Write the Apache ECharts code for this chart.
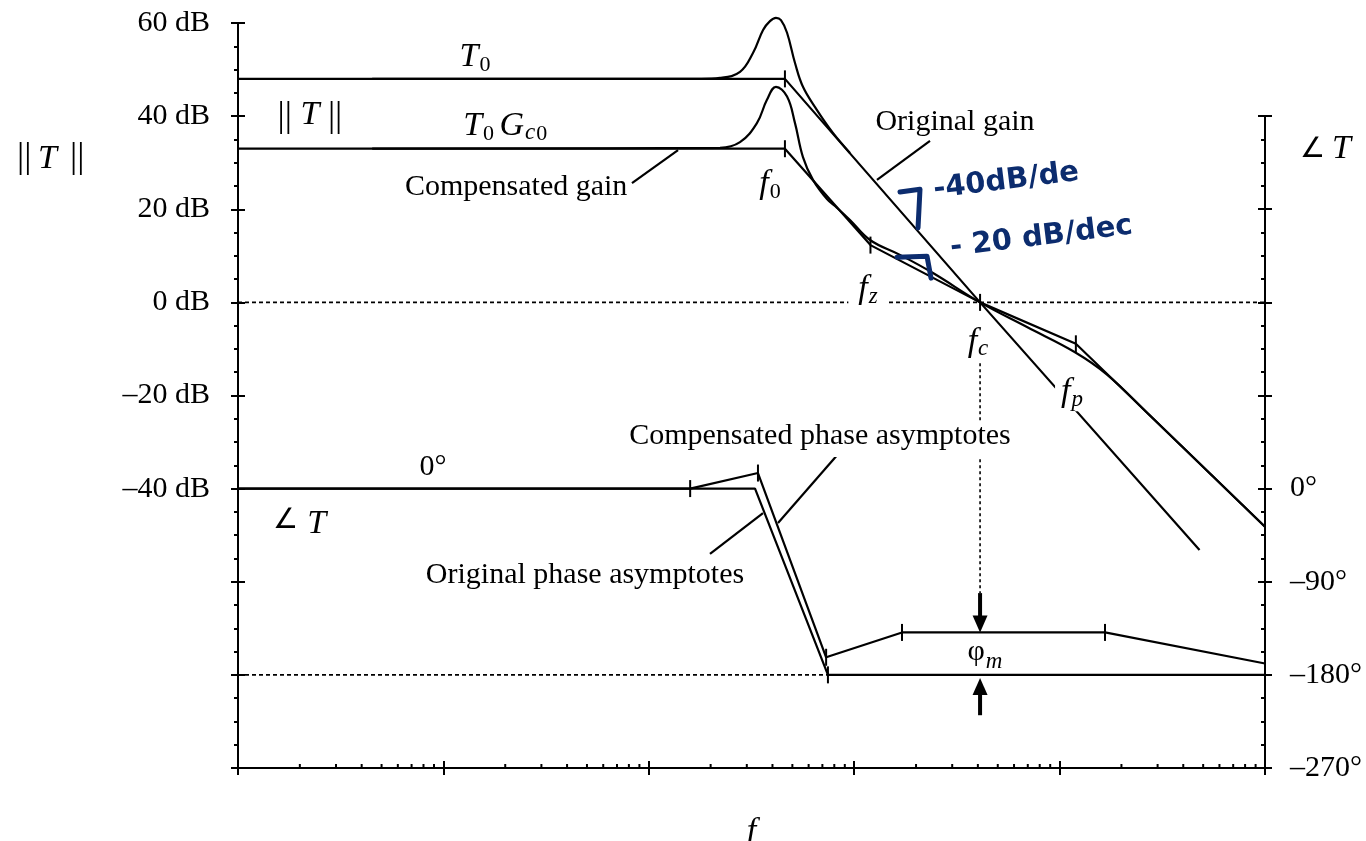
<!DOCTYPE html>
<html>
<head>
<meta charset="utf-8">
<script src="https://cdn.jsdelivr.net/npm/echarts@6/dist/echarts.min.js"></script>
<style>
  html, body { margin: 0; padding: 0; background: #fff; }
  #chart { width: 1366px; height: 841px; }
</style>
</head>
<body>
<div id="chart"></div>
<script>
// ---- Frequency span (five decades) and axis tick labels ----
const freqRange = [1, 100000];
const gainTickLabels = [60, 40, 20, 0, -20, -40];      // dB, left axis
const phaseTickLabels = [0, -90, -180, -270];          // degrees, right axis
const minorMantissas = [2, 3, 4, 5, 6, 7, 8, 9];

// ---- Corner frequencies ----
const f0 = 460, fz = 1200, fc = 4100, fp = 12000;

// ---- Loop gain magnitude, dB ----
const origGainAsym = [[1, 48], [f0, 48], [fc, 0], [48000, -53.2]];
const origGainCurve = [[4.5, 48], [180, 48], [222, 48.2], [278, 49.5], [322, 53.6], [360, 58.5],
  [389, 60.4], [416, 61.1], [440, 60.6], [471, 57.9], [515, 51.4], [563, 46.3], [659, 41.3],
  [788, 36.4], [954, 32.1]];
const compGainAsym = [[1, 33], [f0, 33], [fz, 12.3], [fc, 0], [fp, -8.9], [100000, -48.2]];
const compGainCurve = [[4.5, 33], [222, 33.2], [278, 34.4], [336, 38.5], [376, 43.5], [416, 46.3],
  [471, 44.2], [515, 38.5], [563, 31.2], [630, 26.3], [737, 22.2], [825, 20.3], [954, 17.7],
  [1194, 13.4], [1671, 10.2], [2419, 6.3], [fc, 0], [6938, -5.3], [11885, -10.7], [17016, -15.5],
  [26650, -23.7], [100000, -48.2]];
const gainCorners = [[f0, 48], [f0, 33], [fz, 12.3], [fc, 0], [fp, -8.9]];
const zeroDbLine = [[1, 0], [100000, 0]];

// ---- Loop gain phase asymptotes, degrees ----
const origPhaseAsym = [[1, 0], [329, 0], [745, -180], [100000, -180]];
const compPhaseAsym = [[1, 0], [159, 0], [340, 15], [730, -163], [1709, -139], [16640, -139], [100000, -169]];
const phaseCorners = [[159, 0], [340, 15], [730, -163], [745, -180], [1709, -139], [16640, -139]];
const minus180Line = [[1, -180], [745, -180]];

// ---- Phase margin marker at fc ----
const pmGuide = [[fc, 121], [fc, -101]];
const pmShaftTop = [[fc, -101], [fc, -125]];
const pmTipTop = [[fc, -139]];
const pmShaftBottom = [[fc, -219], [fc, -197]];
const pmTipBottom = [[fc, -183]];

// ---- Leader lines for the annotations ----
const compGainLeader = [[82.8, 25.6], [138.8, 32.7]];
const origGainLeader = [[2339, 34.7], [1291, 26.3]];
const compPhaseLeader = [[843.6, 34.4], [425.6, -33.2]];
const origPhaseLeader = [[198.6, -63.2], [359.7, -23.8]];

// ---- Hand-written slope notes ----
const slope40Bracket = [[1671, 23.7], [2091, 24.3], [2045, 16.0]];
const slope20Bracket = [[1616, 9.7], [2262, 9.9], [2366, 5.2]];

const SERIF = '"Liberation Serif", "DejaVu Serif", serif';
const INK = '#000';
const PEN = '#0c2c6e';

const rich = {
  r:  { fontFamily: SERIF, fontSize: 30, color: INK, lineHeight: 36, verticalAlign: 'top' },
  i:  { fontFamily: SERIF, fontStyle: 'italic', fontSize: 34, color: INK, lineHeight: 36, verticalAlign: 'top' },
  s:  { fontFamily: SERIF, fontSize: 22, color: INK, lineHeight: 22, padding: [18, 0, 0, 1], verticalAlign: 'bottom' },
  si: { fontFamily: SERIF, fontStyle: 'italic', fontSize: 23, color: INK, lineHeight: 22, padding: [18, 0, 0, 1], verticalAlign: 'bottom' },
  bar: { fontFamily: SERIF, fontSize: 36, color: INK, lineHeight: 36, verticalAlign: 'top' },
  ang: { fontFamily: '"DejaVu Sans"', fontWeight: 200, fontSize: 28, color: INK, lineHeight: 36, verticalAlign: 'top' }
};

const minorTickData = [];
for (let d = 0; d < 5; d++) {
  for (const m of minorMantissas) minorTickData.push([m * Math.pow(10, d), -100]);
}

function lineSeries(data, opts) {
  return Object.assign({
    type: 'line', data: data, symbol: 'none', silent: true, clip: false,
    xAxisIndex: 0, yAxisIndex: 0,
    lineStyle: { color: INK, width: 2.2 }, z: 3
  }, opts || {});
}

function label(value, text, extra) {
  return { value: value, label: Object.assign({ formatter: text }, extra || {}) };
}

const handStyle = { rotate: 7, color: PEN, fontFamily: '"DejaVu Sans"', fontWeight: 'bold', fontSize: 29 };

const gainLabels = [
  label([2.24, 40], '{bar|||}{i| T }{bar|||}'),
  label([14.25, 52.5], '{i|T}{s|0}'),
  label([20, 37.7], '{i|T}{s|0 }{i|G}{si|c}{s|0}'),
  label([22.6, 24.1], '{r|Compensated gain}'),
  label([389, 25.2], '{i|f}{s|0}'),
  label([3096, 38.1], '{r|Original gain}'),
  label([1168, 2.6], '{i|f}{si|z}', { backgroundColor: '#fff', padding: [0, 10, 0, 10] }),
  label([4006, -8.7], '{i|f}{si|c}'),
  label([11494, -19.5], '{i|f}{si|p}', { backgroundColor: '#fff', padding: [0, 6, 0, 6] }),
  label([5500, 26.0], '-40dB/de', handStyle),
  label([8150, 14.0], '- 20 dB/dec', handStyle)
];

const phaseLabels = [
  label([8.9, 18], '{r|0°}'),
  label([2.0, -35], '{ang|∠ }{i|T}'),
  label([681, 48], '{r|Compensated phase asymptotes}', { backgroundColor: '#fff', padding: [0, 2, 0, 2] }),
  label([48.9, -86.6], '{r|Original phase asymptotes}'),
  label([4334, -160.8], '{r|φ}{si|m}')
];

function labelSeries(data, xi, yi) {
  return {
    type: 'scatter', xAxisIndex: xi, yAxisIndex: yi, data: data,
    symbolSize: 0.1, itemStyle: { color: 'rgba(0,0,0,0)', opacity: 1 }, silent: true, z: 10,
    label: { show: true, position: 'inside', color: INK, textBorderWidth: 0, opacity: 1, rich: rich }
  };
}

function tickSeries(data, xi, yi) {
  return {
    type: 'scatter', xAxisIndex: xi, yAxisIndex: yi, data: data, silent: true,
    symbol: 'rect', symbolSize: [2, 17], itemStyle: { color: INK, opacity: 1 }, z: 4
  };
}

const chart = echarts.init(document.getElementById('chart'), null, { renderer: 'canvas' });

const baseXAxis = { type: 'log', logBase: 10, min: freqRange[0], max: freqRange[1], splitNumber: 5 };
const axisLineStyle = { color: INK, width: 2 };

chart.setOption({
  animation: false,
  backgroundColor: '#fff',
  grid: [
    { left: 238, right: 101, top: 23, bottom: 73, outerBoundsMode: 'none' },
    { left: 238, right: 101, top: 116, bottom: 73, outerBoundsMode: 'none' }
  ],
  xAxis: [
    Object.assign({}, baseXAxis, {
      gridIndex: 0, position: 'bottom',
      axisLine: { onZero: false, lineStyle: axisLineStyle },
      axisTick: { show: true, length: 7, lineStyle: axisLineStyle },
      axisLabel: { show: false }, splitLine: { show: false },
      name: 'f', nameLocation: 'middle', nameGap: 47,
      nameTextStyle: { fontFamily: SERIF, fontStyle: 'italic', fontSize: 34, color: INK }
    }),
    Object.assign({}, baseXAxis, {
      gridIndex: 0, position: 'bottom',
      axisLine: { show: false, onZero: false },
      axisTick: { show: true, inside: true, length: 7, lineStyle: axisLineStyle },
      axisLabel: { show: false }, splitLine: { show: false }
    }),
    Object.assign({}, baseXAxis, { gridIndex: 1, show: false, axisLine: { onZero: false } })
  ],
  yAxis: [
    {
      gridIndex: 0, type: 'value', position: 'left', min: -100, max: 60, interval: 20,
      axisLine: { show: true, onZero: false, lineStyle: axisLineStyle },
      axisTick: { show: true, length: 7, lineStyle: axisLineStyle },
      minorTick: { show: true, splitNumber: 4, length: 4, lineStyle: axisLineStyle },
      splitLine: { show: false }, minorSplitLine: { show: false },
      axisLabel: {
        margin: 28, color: INK, fontFamily: SERIF, fontSize: 30,
        formatter: v => gainTickLabels.includes(v) ? (v < 0 ? '–' : '') + Math.abs(v) + ' dB' : ''
      }
    },
    {
      gridIndex: 0, type: 'value', position: 'left', min: -100, max: 60, interval: 20,
      axisLine: { show: false, onZero: false },
      axisTick: { show: true, inside: true, length: 7, lineStyle: axisLineStyle },
      axisLabel: { show: false }, splitLine: { show: false }
    },
    {
      gridIndex: 1, type: 'value', position: 'right', min: -270, max: 360, interval: 90,
      axisLine: { show: true, onZero: false, lineStyle: axisLineStyle },
      axisTick: { show: true, length: 7, lineStyle: axisLineStyle },
      splitLine: { show: false },
      axisLabel: {
        margin: 25, color: INK, fontFamily: SERIF, fontSize: 30,
        formatter: v => phaseTickLabels.includes(v) ? (v < 0 ? '–' : '') + Math.abs(v) + '°' : ''
      }
    },
    {
      gridIndex: 1, type: 'value', position: 'right', min: -270, max: 360, interval: 90,
      axisLine: { show: false, onZero: false },
      axisTick: { show: true, inside: true, length: 7, lineStyle: axisLineStyle },
      minorTick: { show: true, splitNumber: 4, length: 4, lineStyle: axisLineStyle },
      splitLine: { show: false }, minorSplitLine: { show: false },
      axisLabel: { show: false }
    }
  ],
  graphic: [
    { type: 'text', left: 17, top: 140, silent: true, style: { text: '||', font: '36px ' + SERIF, fill: INK } },
    { type: 'text', left: 38, top: 142, silent: true, style: { text: 'T', font: 'italic 34px ' + SERIF, fill: INK } },
    { type: 'text', left: 70, top: 140, silent: true, style: { text: '||', font: '36px ' + SERIF, fill: INK } },
    { type: 'text', left: 1300, top: 136, silent: true, style: { text: '∠', font: '28px "DejaVu Sans"', fill: INK } },
    { type: 'text', left: 1332, top: 132, silent: true, style: { text: 'T', font: 'italic 34px ' + SERIF, fill: INK } }
  ],
  series: [
    // x-axis minor (logarithmic) ticks
    {
      type: 'custom', xAxisIndex: 0, yAxisIndex: 0, data: minorTickData, silent: true, z: 5,
      encode: { x: 0, y: 1 },
      renderItem: (params, api) => {
        const p = api.coord([api.value(0), api.value(1)]);
        return { type: 'line', shape: { x1: p[0], y1: p[1], x2: p[0], y2: p[1] - 4 },
                 style: { stroke: INK, lineWidth: 2 } };
      }
    },
    // reference lines
    lineSeries(zeroDbLine, { lineStyle: { color: INK, width: 1.6, type: [4, 3] }, z: 2 }),
    lineSeries(minus180Line, { xAxisIndex: 2, yAxisIndex: 2, lineStyle: { color: INK, width: 1.6, type: [4, 3] }, z: 2 }),
    // gain
    lineSeries(origGainAsym),
    lineSeries(origGainCurve, { smooth: 0.4 }),
    lineSeries(compGainAsym),
    lineSeries(compGainCurve, { smooth: 0.4 }),
    tickSeries(gainCorners, 0, 0),
    // phase
    lineSeries(origPhaseAsym, { xAxisIndex: 2, yAxisIndex: 2 }),
    lineSeries(compPhaseAsym, { xAxisIndex: 2, yAxisIndex: 2 }),
    tickSeries(phaseCorners, 2, 2),
    // phase margin marker
    lineSeries(pmGuide, { xAxisIndex: 2, yAxisIndex: 2, lineStyle: { color: INK, width: 1.6, type: [3, 3] } }),
    lineSeries(pmShaftTop, { xAxisIndex: 2, yAxisIndex: 2, lineStyle: { color: INK, width: 4 } }),
    lineSeries(pmShaftBottom, { xAxisIndex: 2, yAxisIndex: 2, lineStyle: { color: INK, width: 4 } }),
    {
      type: 'scatter', xAxisIndex: 2, yAxisIndex: 2, data: pmTipTop, silent: true, z: 6,
      symbol: 'triangle', symbolSize: [15, 17], symbolRotate: 180, symbolOffset: [0, -8.5],
      itemStyle: { color: INK, opacity: 1 }
    },
    {
      type: 'scatter', xAxisIndex: 2, yAxisIndex: 2, data: pmTipBottom, silent: true, z: 6,
      symbol: 'triangle', symbolSize: [15, 17], symbolOffset: [0, 8.5],
      itemStyle: { color: INK, opacity: 1 }
    },
    // leader lines
    lineSeries(compGainLeader),
    lineSeries(origGainLeader),
    lineSeries(compPhaseLeader, { xAxisIndex: 2, yAxisIndex: 2 }),
    lineSeries(origPhaseLeader, { xAxisIndex: 2, yAxisIndex: 2 }),
    // hand-written slope brackets
    lineSeries(slope40Bracket, { lineStyle: { color: PEN, width: 5, cap: 'round', join: 'round' }, z: 8 }),
    lineSeries(slope20Bracket, { lineStyle: { color: PEN, width: 5, cap: 'round', join: 'round' }, z: 8 }),
    // annotations
    labelSeries(gainLabels, 0, 0),
    labelSeries(phaseLabels, 2, 2)
  ]
});
</script>
</body>
</html>
